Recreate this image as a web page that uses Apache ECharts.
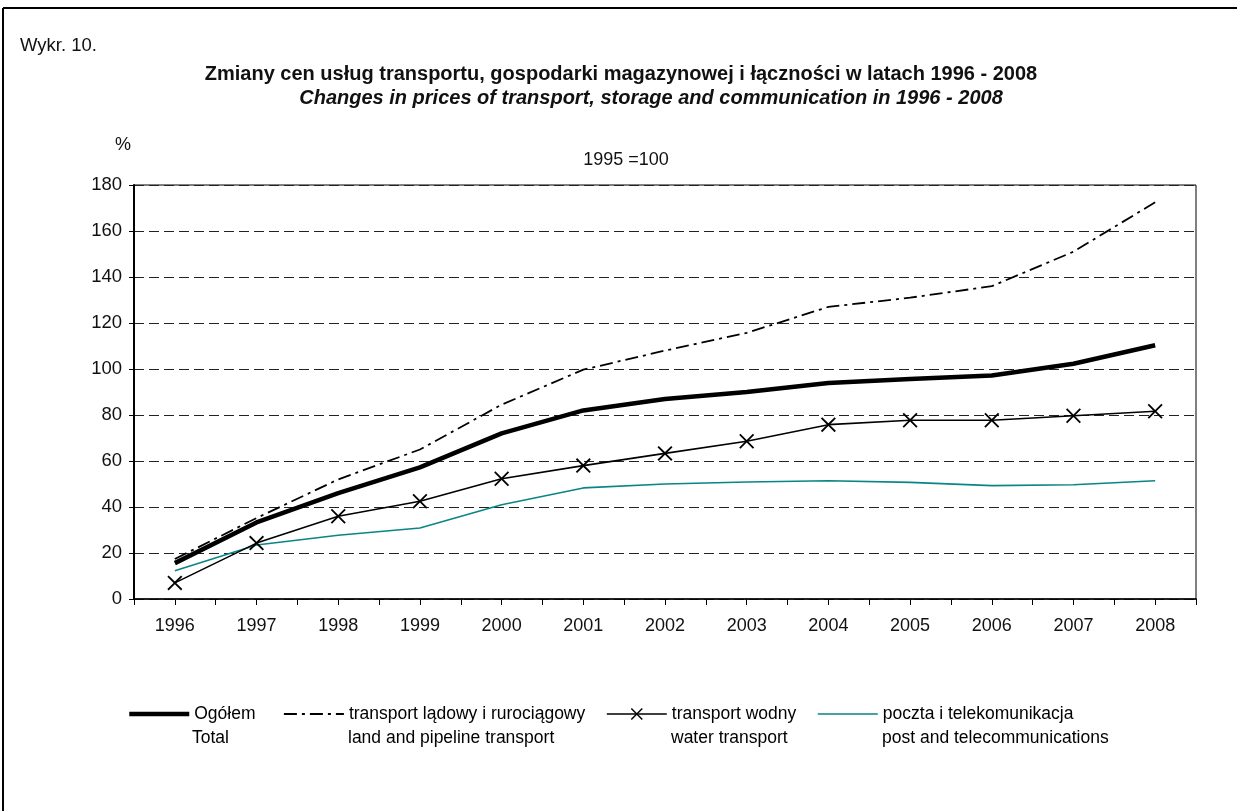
<!DOCTYPE html>
<html>
<head>
<meta charset="utf-8">
<script src="https://cdn.jsdelivr.net/npm/echarts@6/dist/echarts.min.js"></script>
<style>
html,body{margin:0;padding:0;background:#fff;}
#chart{width:1237px;height:811px;}
</style>
</head>
<body>
<div id="chart"></div>
<script>
const years = ['1996','1997','1998','1999','2000','2001','2002','2003','2004','2005','2006','2007','2008'];
const yTicks = [0,20,40,60,80,100,120,140,160,180];
const seriesNames = [
  'Ogółem\nTotal',
  'transport lądowy i rurociągowy\nland and pipeline transport',
  'transport wodny\nwater transport',
  'poczta i telekomunikacja\npost and telecommunications'
];
const totalVals = [15.6, 33.3, 46, 57.2, 72, 82, 87, 90, 93.9, 95.6, 97.2, 102.3, 110.3];
const landVals  = [17.4, 35.2, 52, 65, 84.5, 99.7, 108, 115.7, 127, 131, 136, 151, 172.5];
const waterVals = [7, 24.3, 36, 42.5, 52.3, 58, 63.3, 68.6, 75.8, 77.7, 77.7, 79.7, 81.6];
const postVals  = [12.3, 23.5, 27.7, 30.9, 41, 48.3, 50, 50.9, 51.4, 50.7, 49.3, 49.7, 51.4];

const FONT = "'Liberation Sans', Arial, sans-serif";
const chart = echarts.init(document.getElementById('chart'), null, {renderer:'canvas'});

const xPath = 'path://M0,1.2L1.2,0L7,5.8L12.8,0L14,1.2L8.2,7L14,12.8L12.8,14L7,8.2L1.2,14L0,12.8L5.8,7Z';
const legendLefts = [127, 283, 606, 817];
const hasSymbol = [false, false, true, false];
const legendLine = [
  {width: 4.5, color: '#000', type: 'solid'},
  {width: 1.8, color: '#000', type: [13, 5, 3, 5]},
  {width: 1.6, color: '#000', type: 'solid'},
  {width: 1.6, color: '#0a8585', type: 'solid'}
];

function legendFor(i){
  const lg = {
    left: legendLefts[i], top: 705, padding: 0,
    itemWidth: 60, itemHeight: 15,
    data: [seriesNames[i]],
    selectedMode: false,
    formatter: n => n.split('\n')[0],
    lineStyle: legendLine[i],
    textStyle: {fontFamily: FONT, fontSize: 17.5, color: '#000'}
  };
  if (!hasSymbol[i]) {
    lg.itemStyle = {color: 'rgba(0,0,0,0)', borderColor: 'rgba(0,0,0,0)', borderWidth: 0, opacity: 0};
  }
  return lg;
}

const graphicTexts = [
  {type:'text', left: 20, top: 36, style:{text:'Wykr. 10.', font:"18.5px 'Liberation Sans', Arial", fill:'#111'}},
  {type:'text', x: 621, y: 74, style:{text:'Zmiany cen usług transportu, gospodarki magazynowej i łączności w latach 1996 - 2008', font:"bold 20px 'Liberation Sans', Arial", fill:'#111', textAlign:'center', textVerticalAlign:'middle'}},
  {type:'text', x: 651, y: 98, style:{text:'Changes in prices of transport, storage and communication in 1996 - 2008', font:"italic bold 20px 'Liberation Sans', Arial", fill:'#111', textAlign:'center', textVerticalAlign:'middle'}},
  {type:'text', x: 115, y: 145, style:{text:'%', font:"18px 'Liberation Sans', Arial", fill:'#111', textVerticalAlign:'middle'}},
  {type:'text', x: 626, y: 160, style:{text:'1995 =100', font:"18px 'Liberation Sans', Arial", fill:'#111', textAlign:'center', textVerticalAlign:'middle'}},
  {type:'line', shape:{x1:3, y1:8, x2:1237, y2:8}, style:{stroke:'#000', lineWidth:2}},
  {type:'line', shape:{x1:3, y1:8, x2:3, y2:811}, style:{stroke:'#000', lineWidth:2}}
];
seriesNames.forEach((n, i) => {
  graphicTexts.push({type:'text', left: legendLefts[i] + 65, top: 729,
    style:{text: n.split('\n')[1], font:"17.5px 'Liberation Sans', Arial", fill:'#000'}});
});

const option = {
  backgroundColor: '#fff',
  animation: false,
  grid: {left: 134, top: 185, width: 1062, height: 414, show: true, borderColor: '#000', borderWidth: 1, containLabel: false},
  legend: [0,1,2,3].map(legendFor),
  graphic: graphicTexts,
  xAxis: [
    {
      type: 'category', data: years, position: 'bottom', boundaryGap: true,
      axisLine: {show: true, lineStyle: {color: '#000', width: 1.5}},
      axisTick: {show: true, alignWithLabel: true, length: 6, lineStyle: {color: '#000', width: 1}},
      axisLabel: {fontFamily: FONT, fontSize: 18, color: '#111', margin: 18},
      splitLine: {show: false}
    },
    {
      type: 'category', data: years, position: 'bottom', boundaryGap: true,
      axisLine: {show: false},
      axisTick: {show: true, length: 6, lineStyle: {color: '#000', width: 1}},
      axisLabel: {show: false},
      splitLine: {show: false}
    }
  ],
  yAxis: {
    type: 'value', min: yTicks[0], max: yTicks[yTicks.length-1], interval: 20,
    axisLine: {show: true, lineStyle: {color: '#000', width: 2}},
    axisTick: {show: true, length: 5, lineStyle: {color: '#000', width: 1}},
    axisLabel: {fontFamily: FONT, fontSize: 18.5, color: '#111', margin: 12},
    splitLine: {show: true, lineStyle: {color: '#222', width: 1, type: [10, 5]}}
  },
  series: [
    {name: seriesNames[3], type: 'line', data: postVals, symbol: 'none',
     lineStyle: {color: '#0a8585', width: 1.6}, itemStyle: {color: '#0a8585'}, z: 2},
    {name: seriesNames[2], type: 'line', data: waterVals, symbol: xPath, symbolSize: 15,
     lineStyle: {color: '#000', width: 1.6}, itemStyle: {color: '#000'}, z: 3},
    {name: seriesNames[1], type: 'line', data: landVals, symbol: 'none',
     lineStyle: {color: '#000', width: 1.8, type: [13, 5, 3, 5]}, itemStyle: {color: '#000'}, z: 4},
    {name: seriesNames[0], type: 'line', data: totalVals, symbol: 'none',
     lineStyle: {color: '#000', width: 4.5}, itemStyle: {color: '#000'}, z: 5}
  ]
};
chart.setOption(option);
</script>
</body>
</html>
